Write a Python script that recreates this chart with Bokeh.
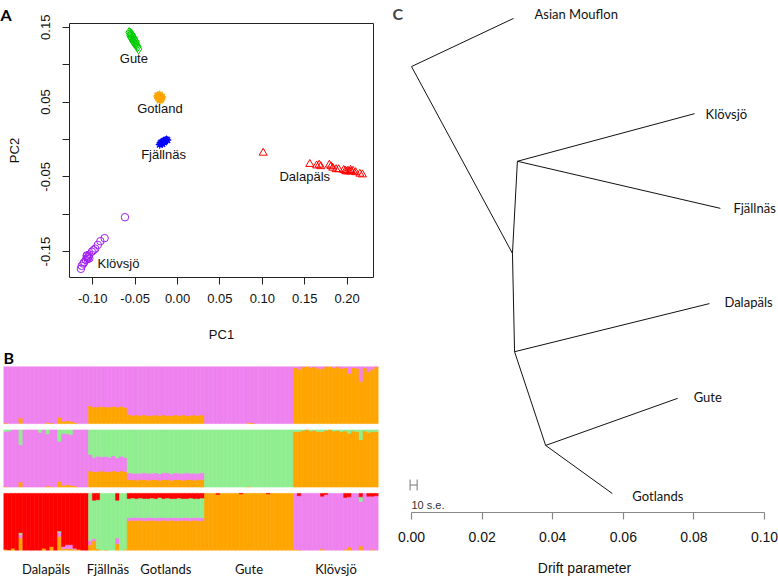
from bokeh.plotting import figure
from bokeh.layouts import row, column
from bokeh.models import ColumnDataSource, FixedTicker, Range1d, Label, PrintfTickFormatter
from bokeh.core.properties import value
from bokeh.embed import file_html
from bokeh.resources import INLINE

# ---------------- Panel A data (PCA) ----------------
gute_pc1 = [-0.057, -0.056, -0.055, -0.056, -0.054, -0.055, -0.053, -0.054, -0.052, -0.053,
            -0.051, -0.052, -0.050, -0.051, -0.050, -0.049, -0.048, -0.049, -0.047, -0.046]
gute_pc2 = [0.143, 0.142, 0.141, 0.139, 0.140, 0.137, 0.138, 0.135, 0.136, 0.133,
            0.134, 0.131, 0.132, 0.129, 0.128, 0.130, 0.126, 0.127, 0.124, 0.121]
gotl_pc1 = [-0.024, -0.023, -0.022, -0.021, -0.020, -0.019, -0.022, -0.021, -0.020, -0.023,
            -0.019, -0.021, -0.020, -0.022, -0.018, -0.021]
gotl_pc2 = [0.058, 0.059, 0.057, 0.060, 0.058, 0.056, 0.055, 0.054, 0.056, 0.056,
            0.054, 0.052, 0.053, 0.058, 0.057, 0.055]
fjal_pc1 = [-0.021, -0.020, -0.019, -0.018, -0.017, -0.016, -0.015, -0.014, -0.013, -0.012, -0.018, -0.016]
fjal_pc2 = [-0.007, -0.005, -0.004, -0.004, -0.003, -0.002, -0.002, -0.001, 0.000, -0.001, -0.006, -0.004]
dala_pc1 = [0.101, 0.156, 0.164, 0.167, 0.169, 0.179, 0.181, 0.183, 0.187, 0.190, 0.196,
            0.198, 0.199, 0.201, 0.203, 0.204, 0.205, 0.207, 0.210, 0.215, 0.218]
dala_pc2 = [-0.018, -0.033, -0.035, -0.034, -0.036, -0.034, -0.036, -0.038, -0.040, -0.040, -0.041,
            -0.042, -0.043, -0.042, -0.043, -0.041, -0.043, -0.042, -0.044, -0.046, -0.047]
klov_pc1 = [-0.062, -0.086, -0.091, -0.094, -0.097, -0.099, -0.101, -0.104, -0.105, -0.106,
            -0.107, -0.106, -0.108, -0.110, -0.111, -0.113, -0.114, -0.104, -0.107]
klov_pc2 = [-0.104, -0.132, -0.136, -0.141, -0.146, -0.148, -0.150, -0.154, -0.157, -0.158,
            -0.156, -0.160, -0.161, -0.164, -0.166, -0.169, -0.173, -0.159, -0.155]
pca_names = ["Gute", "Gotland", "Fjällnäs", "Dalapäls", "Klövsjö"]
pca_x_ticks = [-0.10, -0.05, 0.00, 0.05, 0.10, 0.15, 0.20]
pca_y_ticks = [-0.15, -0.05, 0.05, 0.15]
pca_y_minor = [-0.10, 0.00, 0.10]

# ---------------- Panel B data (admixture proportions per individual) ----------------
pops = ["Dalapäls", "Fjällnäs", "Gotlands", "Gute", "Klövsjö"]
pop_sizes = [22, 10, 20, 23, 22]

dal_k2_orange = [0.01, 0, 0, 0, 0.10, 0, 0, 0, 0, 0, 0, 0.02, 0.01, 0, 0.11, 0.04, 0.05, 0.04, 0.02, 0, 0, 0]
fja_k2_orange = [0.31, 0.29, 0.29, 0.30, 0.29, 0.29, 0.30, 0.29, 0.30, 0.28]
got_k2_orange = [0.16, 0.14, 0.15, 0.14, 0.15, 0.14, 0.14, 0.15, 0.14, 0.15,
                 0.14, 0.14, 0.15, 0.14, 0.15, 0.14, 0.14, 0.15, 0.14, 0.15]
gut_k2_orange = [0, 0, 0, 0, 0, 0, 0, 0, 0, 0, 0, 0.02, 0.01, 0, 0, 0, 0, 0, 0, 0, 0, 0, 0]
klo_k2_orange = [0.98, 0.95, 0.99, 1.0, 0.98, 0.99, 0.97, 0.96, 0.99, 1.0, 0.98,
                 0.99, 0.97, 0.98, 0.88, 0.98, 0.97, 0.74, 0.98, 0.91, 0.95, 0.99]

dal_k3_orange = [0.01, 0, 0, 0, 0.09, 0, 0, 0, 0, 0, 0, 0.02, 0.01, 0, 0.10, 0.03, 0.04, 0.03, 0.02, 0, 0, 0]
dal_k3_green = [0.03, 0.02, 0, 0, 0.26, 0, 0, 0, 0, 0.04, 0, 0.07, 0, 0, 0.20, 0.06, 0.07, 0.08, 0, 0, 0, 0]
fja_k3_orange = [0.28, 0.27, 0.27, 0.28, 0.27, 0.27, 0.28, 0.27, 0.28, 0.27]
fja_k3_pink = [0.29, 0.25, 0.27, 0.25, 0.27, 0.25, 0.27, 0.24, 0.26, 0.25]
got_k3_orange = [0.13, 0.13, 0.12, 0.13, 0.13, 0.12, 0.13, 0.13, 0.12, 0.13,
                 0.13, 0.12, 0.13, 0.13, 0.12, 0.13, 0.13, 0.12, 0.13, 0.13]
got_k3_pink = [0.12, 0.11, 0.12, 0.11, 0.12, 0.12, 0.11, 0.12, 0.11, 0.12,
               0.12, 0.11, 0.12, 0.11, 0.12, 0.12, 0.11, 0.12, 0.11, 0.12]
gut_k3_orange = [0, 0, 0, 0, 0, 0, 0, 0, 0, 0, 0, 0.01, 0, 0, 0, 0, 0, 0, 0, 0, 0, 0, 0]
klo_k3_orange = [0.97, 0.97, 0.99, 1.0, 0.98, 0.99, 0.97, 0.97, 0.99, 1.0, 0.98,
                 0.99, 0.97, 0.98, 0.94, 0.98, 0.97, 0.83, 0.98, 0.96, 0.97, 0.97]

dal_k4_orange = [0.02, 0.01, 0.04, 0, 0.22, 0, 0, 0, 0, 0, 0.04, 0, 0.07, 0, 0.25, 0.03, 0.03, 0.03, 0.02, 0.02, 0, 0]
dal_k4_pink = [0, 0, 0, 0, 0.06, 0, 0, 0, 0, 0, 0, 0, 0, 0, 0.07, 0.04, 0.07, 0.07, 0.02, 0, 0, 0]
dal_k4_green = [0, 0, 0, 0, 0.03, 0, 0, 0, 0, 0, 0, 0, 0, 0, 0.02, 0, 0, 0, 0, 0, 0, 0]
fja_k4_orange = [0.10, 0.17, 0.03, 0.00, 0.01, 0.00, 0.00, 0.12, 0.00, 0.02]
fja_k4_pink = [0.08, 0.04, 0.00, 0.00, 0.00, 0.00, 0.00, 0.10, 0.00, 0.00]
fja_k4_red = [0.00, 0.12, 0.11, 0.00, 0.00, 0.00, 0.00, 0.12, 0.00, 0.00]
got_k4_orange = [0.52, 0.53, 0.52, 0.53, 0.52, 0.52, 0.53, 0.52, 0.52, 0.53,
                 0.52, 0.53, 0.52, 0.52, 0.53, 0.52, 0.52, 0.53, 0.52, 0.52]
got_k4_pink = [0.05, 0.05, 0.06, 0.05, 0.05, 0.06, 0.05, 0.05, 0.06, 0.05,
               0.05, 0.05, 0.06, 0.05, 0.05, 0.06, 0.05, 0.05, 0.06, 0.05]
got_k4_red = [0.09, 0.08, 0.09, 0.08, 0.09, 0.09, 0.08, 0.09, 0.07, 0.09,
              0.08, 0.09, 0.09, 0.08, 0.09, 0.09, 0.08, 0.09, 0.09, 0.08]
gut_k4_red = [0, 0, 0, 0.02, 0, 0, 0, 0, 0, 0.01, 0, 0, 0, 0, 0, 0, 0.01, 0, 0, 0, 0, 0, 0]
klo_k4_orange = [0.02, 0.01, 0, 0, 0, 0, 0, 0.03, 0, 0, 0, 0, 0, 0.02, 0.06, 0, 0, 0.08, 0, 0, 0.02, 0]
klo_k4_green = [0, 0, 0, 0, 0, 0, 0, 0, 0, 0, 0, 0, 0, 0, 0, 0, 0, 0.08, 0, 0, 0, 0]
klo_k4_red = [0, 0.04, 0, 0, 0, 0, 0, 0.05, 0.02, 0, 0, 0, 0, 0.07, 0.06, 0, 0, 0.06, 0, 0.05, 0.05, 0.04]

# ---------------- Panel C data (TreeMix tree) ----------------
node_names = ["root", "mouflon", "n1", "n2", "klo", "fja", "n3", "dal", "n4", "gute", "got"]
node_drift = [0.0, 0.0289, 0.0286, 0.0300, 0.0802, 0.0875, 0.0292, 0.0844, 0.0380, 0.0754, 0.0569]
node_ypos = [0.871, 0.965, 0.506, 0.686, 0.779, 0.594, 0.314, 0.408, 0.131, 0.223, 0.037]
edges = [("root", "mouflon"), ("root", "n1"), ("n1", "n2"), ("n2", "klo"), ("n2", "fja"),
         ("n1", "n3"), ("n3", "dal"), ("n3", "n4"), ("n4", "gute"), ("n4", "got")]
tip_nodes = ["mouflon", "klo", "fja", "dal", "gute", "got"]
tip_labels = ["Asian Mouflon", "Klövsjö", "Fjällnäs", "Dalapäls", "Gute", "Gotlands"]
drift_ticks = [0.00, 0.02, 0.04, 0.06, 0.08, 0.10]
se_bar_x = [-0.0004, 0.0016]
se_bar_y = 0.0537

# ---------------- colours / styles ----------------
ORANGE, PINK, GREEN, RED = "#FFA500", "#EE82EE", "#90EE90", "#FF0000"
ARIAL = "Liberation Sans"
CALIBRI = "Lato"


def panel_title(p, letter, left_border):
    p.title.text = letter
    p.title.align = "left"
    p.title.offset = -left_border
    p.title.standoff = 0
    p.title.text_font = CALIBRI
    p.title.text_font_style = "bold"
    p.title.text_font_size = "16px"
    p.title.text_color = "#000000"


# =============== Panel A ===============
AX0, AX1, AY0, AY1 = -0.1274, 0.2311, -0.1846, 0.155
pA = figure(width=390, height=345, x_range=Range1d(AX0, AX1), y_range=Range1d(AY0, AY1),
            output_backend="svg", toolbar_location=None, frame_align=False,
            min_border_left=69, min_border_right=17, min_border_top=23, min_border_bottom=68)
pA.xgrid.visible = False
pA.ygrid.visible = False
pA.outline_line_color = "#222222"
pA.outline_line_width = 1
panel_title(pA, "A", 69)

pA.scatter(gute_pc1, gute_pc2, marker="diamond", size=10, fill_color=None, line_color="#00CD00", line_width=1)
pA.scatter(gotl_pc1, gotl_pc2, marker="asterisk", size=8, line_color=ORANGE, line_width=1.2)
pA.scatter(fjal_pc1, fjal_pc2, marker="asterisk", size=8, line_color="#0000FF", line_width=1.2)
pA.scatter(dala_pc1, dala_pc2, marker="triangle", size=8, fill_color=None, line_color="#FF0000", line_width=1)
pA.scatter(klov_pc1, klov_pc2, marker="circle", size=7.5, fill_color=None, line_color="#A020F0", line_width=1)

lab_x = [-0.0515, -0.0208, -0.0165, 0.150, -0.0696]
lab_y = [0.1077, 0.0409, -0.0202, -0.0496, -0.1655]
pA.text(x=lab_x, y=lab_y, text=pca_names, text_font=value(ARIAL), text_font_size="13px",
        text_align="center", text_baseline="middle", text_color="#111111")

for ax in (pA.xaxis[0], pA.yaxis[0]):
    ax.axis_line_color = None
    ax.major_tick_line_color = "#222222"
    ax.minor_tick_line_color = "#222222"
    ax.major_tick_out = 7
    ax.major_tick_in = 0
    ax.minor_tick_out = 7
    ax.minor_tick_in = 0
    ax.major_label_text_font = ARIAL
    ax.major_label_text_font_size = "13px"
    ax.major_label_text_color = "#111111"
    ax.axis_label_text_font = ARIAL
    ax.axis_label_text_font_size = "13px"
    ax.axis_label_text_font_style = "normal"
    ax.axis_label_text_color = "#111111"
    ax.formatter = PrintfTickFormatter(format="%.2f")

pA.xaxis.ticker = FixedTicker(ticks=pca_x_ticks, minor_ticks=[])
pA.yaxis.ticker = FixedTicker(ticks=pca_y_ticks, minor_ticks=pca_y_minor)
pA.xaxis.axis_label = "PC1"
pA.yaxis.axis_label = "PC2"
pA.xaxis.major_label_standoff = 9
pA.xaxis.axis_label_standoff = 21
pA.yaxis.major_label_orientation = "parallel"
pA.yaxis.major_label_standoff = 12
pA.yaxis.axis_label_standoff = 17

# =============== Panel B ===============
def zeros(n):
    return [0.0] * n

def rest(*parts):
    return [max(0.0, 1.0 - sum(v)) for v in zip(*parts)]

row_k2 = [
    (ORANGE, dal_k2_orange + fja_k2_orange + got_k2_orange + gut_k2_orange + klo_k2_orange),
    (PINK, rest(dal_k2_orange) + rest(fja_k2_orange) + rest(got_k2_orange) + rest(gut_k2_orange) + rest(klo_k2_orange)),
]
row_k3 = [
    (ORANGE, dal_k3_orange + fja_k3_orange + got_k3_orange + gut_k3_orange + klo_k3_orange),
    (PINK, rest(dal_k3_orange, dal_k3_green) + fja_k3_pink + got_k3_pink + zeros(23) + zeros(22)),
    (GREEN, dal_k3_green + rest(fja_k3_orange, fja_k3_pink) + rest(got_k3_orange, got_k3_pink)
     + rest(gut_k3_orange) + rest(klo_k3_orange)),
]
row_k4 = [
    (ORANGE, dal_k4_orange + fja_k4_orange + got_k4_orange + rest(gut_k4_red) + klo_k4_orange),
    (PINK, dal_k4_pink + fja_k4_pink + got_k4_pink + zeros(23) + rest(klo_k4_orange, klo_k4_green, klo_k4_red)),
    (GREEN, dal_k4_green + rest(fja_k4_orange, fja_k4_pink, fja_k4_red)
     + rest(got_k4_orange, got_k4_pink, got_k4_red) + zeros(23) + klo_k4_green),
    (RED, rest(dal_k4_orange, dal_k4_pink, dal_k4_green) + fja_k4_red + got_k4_red + gut_k4_red + klo_k4_red),
]

n_ind = sum(pop_sizes)
row_gap = 0.111
rows = [(row_k4, 0.0), (row_k3, 1.0 + row_gap), (row_k2, 2.0 + 2 * row_gap)]
y_top = 3.0 + 2 * row_gap

L, R, B, T, C = [], [], [], [], []
for comps, base in rows:
    for i in range(n_ind):
        cum = 0.0
        for col, vals in comps:
            v = vals[i]
            if v <= 0:
                continue
            L.append(i); R.append(i + 1)
            B.append(base + cum); T.append(base + min(1.0, cum + v))
            C.append(col)
            cum += v
src = ColumnDataSource(dict(left=L, right=R, bottom=B, top=T, color=C))

pB = figure(width=390, height=234, x_range=Range1d(0, n_ind), y_range=Range1d(0, y_top),
            output_backend="svg", toolbar_location=None, y_axis_location=None, frame_align=False,
            min_border_left=3, min_border_right=12, min_border_top=20, min_border_bottom=26)
pB.quad(left="left", right="right", bottom="bottom", top="top", fill_color="color",
        line_color="color", line_width=0.6, source=src)
pB.xgrid.visible = False
pB.ygrid.visible = False
pB.outline_line_color = None
panel_title(pB, "B", 0)

centers = []
start = 0
for n in pop_sizes:
    centers.append(start + n / 2.0)
    start += n
pB.xaxis.ticker = FixedTicker(ticks=centers, minor_ticks=[])
pB.xaxis.major_label_overrides = {c: name for c, name in zip(centers, pops)}
pB.xaxis.axis_line_color = None
pB.xaxis.major_tick_line_color = None
pB.xaxis.minor_tick_line_color = None
pB.xaxis.major_tick_out = 0
pB.xaxis.major_label_standoff = 10
pB.xaxis.major_label_text_font = CALIBRI
pB.xaxis.major_label_text_font_size = "13px"
pB.xaxis.major_label_text_color = "#111111"

# =============== Panel C ===============
xs0 = -21.0 / 3530.0
xs1 = 0.1 + 14.0 / 3530.0
pC = figure(width=388, height=579, x_range=Range1d(xs0, xs1), y_range=Range1d(0, 1),
            output_backend="svg", toolbar_location=None, y_axis_location=None, frame_align=False,
            min_border_left=0, min_border_right=0, min_border_top=0, min_border_bottom=67)
pC.xgrid.visible = False
pC.ygrid.visible = False
pC.outline_line_color = None

idx = {n: i for i, n in enumerate(node_names)}
ex0 = [node_drift[idx[a]] for a, b in edges]
ey0 = [node_ypos[idx[a]] for a, b in edges]
ex1 = [node_drift[idx[b]] for a, b in edges]
ey1 = [node_ypos[idx[b]] for a, b in edges]
pC.segment(x0=ex0, y0=ey0, x1=ex1, y1=ey1, line_color="#111111", line_width=1)

tip_x = [node_drift[idx[n]] for n in tip_nodes]
tip_y = [node_ypos[idx[n]] for n in tip_nodes]
tip_xoff = [21, 11, 13, 15, 16, 20]
tip_yoff = [-4, 0, 0, -2, -1, 2]
pC.text(x=tip_x, y=tip_y, text=tip_labels, x_offset=tip_xoff, y_offset=tip_yoff,
        text_font=value(CALIBRI), text_font_size="13px", text_align="left",
        text_baseline="middle", text_color="#111111")

# 10 s.e. scale bar
h = 0.0107
pC.segment(x0=[se_bar_x[0], se_bar_x[1], se_bar_x[0]], y0=[se_bar_y - h, se_bar_y - h, se_bar_y],
           x1=[se_bar_x[0], se_bar_x[1], se_bar_x[1]], y1=[se_bar_y + h, se_bar_y + h, se_bar_y],
           line_color="#777777", line_width=1)
pC.text(x=[0.0], y=[0.002], text=["10 s.e."], text_font=value(ARIAL), text_font_size="11px",
        text_align="left", text_baseline="bottom", text_color="#333333")

ax = pC.xaxis[0]
ax.ticker = FixedTicker(ticks=drift_ticks, minor_ticks=[])
ax.formatter = PrintfTickFormatter(format="%.2f")
ax.bounds = (0.0, 0.1)
ax.axis_line_color = "#888888"
ax.axis_line_width = 1.2
ax.major_tick_line_color = "#888888"
ax.major_tick_line_width = 1.2
ax.major_tick_out = 7
ax.major_tick_in = 0
ax.minor_tick_line_color = None
ax.major_label_standoff = 12
ax.major_label_text_font = ARIAL
ax.major_label_text_font_size = "14px"
ax.major_label_text_color = "#111111"
ax.axis_label = "Drift parameter"
ax.axis_label_standoff = 15
ax.axis_label_text_font = ARIAL
ax.axis_label_text_font_size = "14px"
ax.axis_label_text_font_style = "normal"
ax.axis_label_text_color = "#111111"

pC.add_layout(Label(x=xs0 + 2 / 3530.0, y=0.994, text="C", text_font=CALIBRI, text_font_style="bold",
                    text_font_size="16px", text_baseline="top", text_align="left"))

layout = row(column(pA, pB), pC)
open("out.html", "w").write(file_html(layout, INLINE))
